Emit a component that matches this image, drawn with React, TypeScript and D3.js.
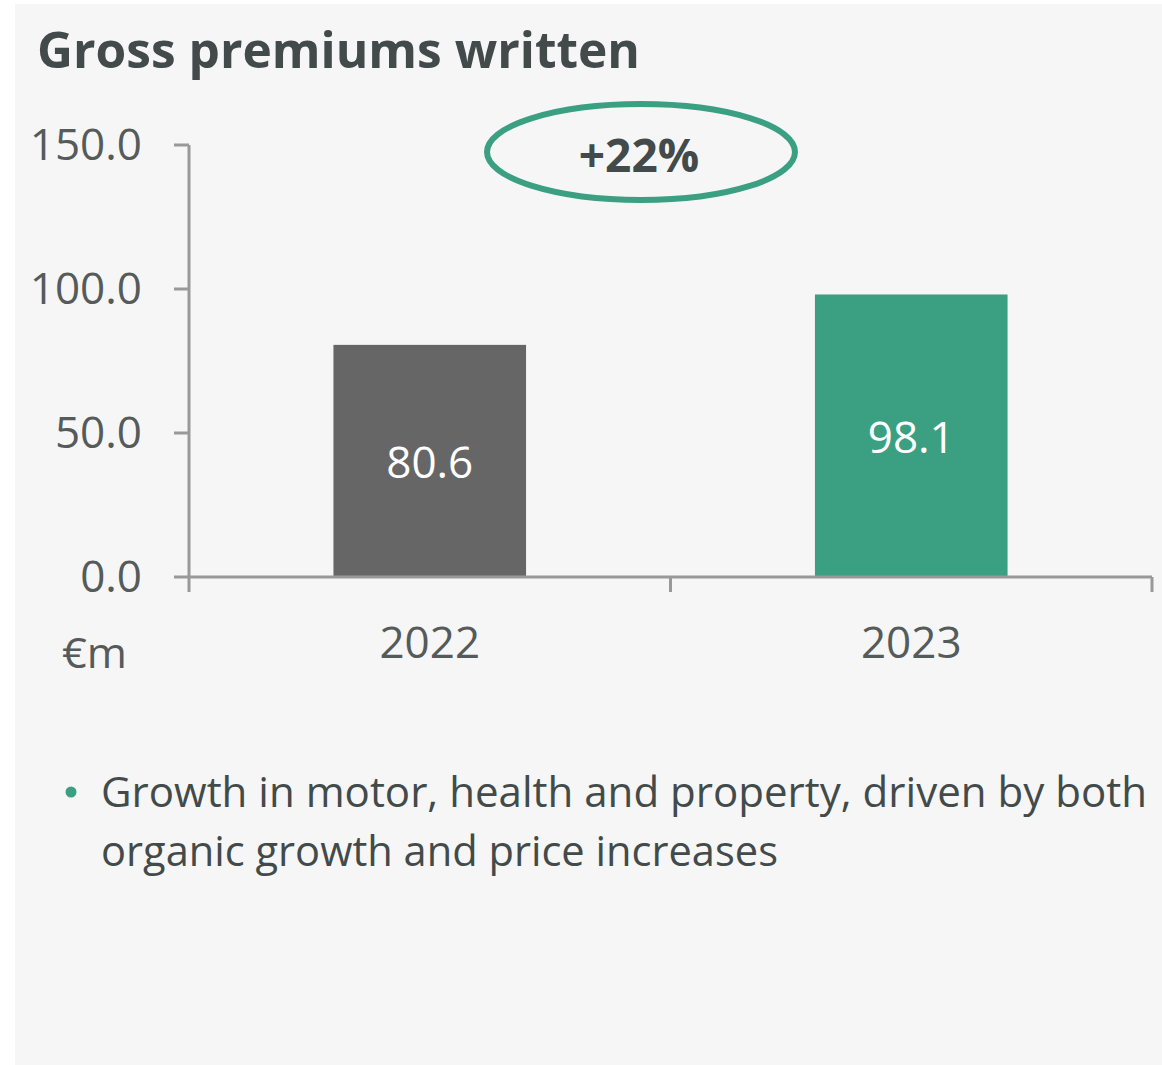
import React from "react";
import * as d3 from "d3";

const years = ["2022", "2023"];
const premiums = [80.6, 98.1];
const yTickValues = [0, 50, 100, 150];
const growthLabel = "+22%";
const titleText = "Gross premiums written";
const unitLabel = "€m";
const bulletLines = [
  "Growth in motor, health and property, driven by both",
  "organic growth and price increases",
];

const W = 1162;
const H = 1065;
const FONT = "'Open Sans', 'Noto Sans', sans-serif";
const GREEN = "#3b9f82";
const GREY_BAR = "#666666";
const AXIS = "#999999";
const TEXT = "#424a4a";
const TICK_TEXT = "#555a5a";

export default function App() {
  const x = d3.scaleBand<string>().domain(years).range([189, 1152]).padding(0);
  const y = d3.scaleLinear().domain([0, 150]).range([577, 145]);
  const bw = x.bandwidth() * 0.4;
  const barColors = [GREY_BAR, GREEN];
  const fmt = d3.format(".1f");

  return (
    <svg
      width={W}
      height={H}
      viewBox={`0 0 ${W} ${H}`}
      style={{ position: "absolute", left: 0, top: 0, background: "#ffffff" }}
    >
      <rect x={15} y={4} width={W - 15} height={H - 4} fill="#f6f6f6" />

      <text
        x={37}
        y={68}
        fontFamily={FONT}
        fontWeight={700}
        fontSize={50}
        fill={TEXT}
        textLength={603}
        lengthAdjust="spacingAndGlyphs"
      >
        {titleText}
      </text>

      {/* bars */}
      {years.map((yr, i) => {
        const cx = (x(yr) as number) + x.bandwidth() / 2;
        const top = y(premiums[i]);
        const bottom = y(0);
        return (
          <g key={yr}>
            <rect x={cx - bw / 2} y={top} width={bw} height={bottom - top} fill={barColors[i]} />
            <text
              x={cx}
              y={(top + bottom) / 2 + 17}
              textAnchor="middle"
              fontFamily={FONT}
              fontSize={44}
              fill="#ffffff"
            >
              {fmt(premiums[i])}
            </text>
            <text
              x={cx}
              y={658}
              textAnchor="middle"
              fontFamily={FONT}
              fontSize={44}
              fill={TICK_TEXT}
            >
              {yr}
            </text>
          </g>
        );
      })}

      {/* y axis */}
      <line x1={189} x2={189} y1={y(150)} y2={592} stroke={AXIS} strokeWidth={3} />
      {yTickValues.map((t) => (
        <g key={t}>
          <line x1={174} x2={189} y1={y(t)} y2={y(t)} stroke={AXIS} strokeWidth={3} />
          <text
            x={142}
            y={y(t) + 15}
            textAnchor="end"
            fontFamily={FONT}
            fontSize={44}
            fill={TICK_TEXT}
          >
            {fmt(t)}
          </text>
        </g>
      ))}

      {/* x axis */}
      <line x1={189} x2={1152} y1={y(0)} y2={y(0)} stroke={AXIS} strokeWidth={3} />
      {years.map((yr) => {
        const xe = (x(yr) as number) + x.bandwidth();
        return <line key={yr} x1={xe} x2={xe} y1={y(0)} y2={592} stroke={AXIS} strokeWidth={3} />;
      })}

      <text x={62} y={668} fontFamily={FONT} fontSize={42} fill={TICK_TEXT} textLength={65} lengthAdjust="spacingAndGlyphs">
        {unitLabel}
      </text>

      {/* growth ellipse */}
      <ellipse cx={641} cy={152} rx={154} ry={48} fill="none" stroke={GREEN} strokeWidth={6} />
      <text
        x={639}
        y={172}
        textAnchor="middle"
        fontFamily={FONT}
        fontWeight={700}
        fontSize={46}
        fill={TEXT}
      >
        {growthLabel}
      </text>

      {/* bullet */}
      <circle cx={71} cy={792} r={5.5} fill={GREEN} />
      <text x={101} y={807} fontFamily={FONT} fontSize={42} fill={TEXT} textLength={1046} lengthAdjust="spacingAndGlyphs">
        {bulletLines[0]}
      </text>
      <text x={101} y={866} fontFamily={FONT} fontSize={42} fill={TEXT} textLength={677} lengthAdjust="spacingAndGlyphs">
        {bulletLines[1]}
      </text>
    </svg>
  );
}
